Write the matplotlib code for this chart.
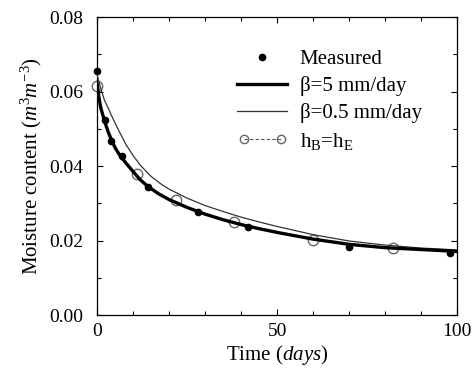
import matplotlib
matplotlib.use("Agg")
import matplotlib.pyplot as plt
from matplotlib.legend_handler import HandlerLine2D
from matplotlib.lines import Line2D
import numpy as np

# Measured data
meas_t = [0, 2.1, 3.9, 7.0, 14.0, 27.9, 41.9, 69.9, 98.0]
meas_y = [0.0656, 0.0523, 0.0468, 0.0428, 0.0344, 0.0277, 0.0237, 0.0183, 0.0166]

# beta = 5 mm/day (thick)
b5_t = [0, 0.5, 1, 2, 3, 4, 5, 6, 8, 10, 12, 14, 17, 20, 25, 30, 35, 40, 45, 50, 60, 70, 80, 90, 100]
b5_y = [0.0620, 0.0582, 0.0556, 0.0522, 0.0493, 0.0469, 0.0449, 0.0433, 0.0408, 0.0385, 0.0363, 0.0346,
        0.0326, 0.0310, 0.0289, 0.0271, 0.0256, 0.0243, 0.0232, 0.0222, 0.0204, 0.0190, 0.0181, 0.0176, 0.0171]

# beta = 0.5 mm/day (thin)
b05_t = [0, 1, 2, 3, 4, 6, 8, 10, 12, 15, 18, 20, 25, 30, 35, 40, 45, 50, 60, 70, 80, 90, 100]
b05_y = [0.0643, 0.0608, 0.0577, 0.0557, 0.0535, 0.0495, 0.0458, 0.0428, 0.0402, 0.0372, 0.0350, 0.0338,
         0.0314, 0.0294, 0.0278, 0.0263, 0.0250, 0.0238, 0.0216, 0.0199, 0.0188, 0.0180, 0.0175]

# hB = hE (open circles)
he_t = [0, 11.0, 21.9, 37.9, 59.9, 82.1]
he_y = [0.0614, 0.0378, 0.0308, 0.0250, 0.0201, 0.0179]

x_ticks = [0, 50, 100]
y_ticks = [0.00, 0.02, 0.04, 0.06, 0.08]

plt.rcParams['font.family'] = ['Liberation Serif', 'DejaVu Serif']
plt.rcParams['mathtext.fontset'] = 'custom'
plt.rcParams['mathtext.rm'] = 'Liberation Serif'
plt.rcParams['mathtext.it'] = 'Liberation Serif:italic'
plt.rcParams['mathtext.bf'] = 'Liberation Serif:bold'


class RightMarkerHandler(HandlerLine2D):
    def get_xdata(self, legend, xdescent, ydescent, width, height, fontsize):
        xd, _ = super().get_xdata(legend, xdescent, ydescent, width, height, fontsize)
        return xd, [width - xdescent]


fig = plt.figure(figsize=(4.72, 3.72), dpi=100)
ax = fig.add_axes([0.206, 0.153, 0.762, 0.801])

ax.plot(he_t, he_y, linestyle='none', marker='o', ms=7.5,
        mfc='none', mec='#666666', mew=1.0, zorder=2, clip_on=False)
ax.plot(b05_t, b05_y, color='#333333', lw=0.9, zorder=3)
ax.plot(b5_t, b5_y, color='black', lw=2.4, zorder=4)
ax.plot(meas_t, meas_y, linestyle='none', marker='o', ms=4.5, color='black', zorder=5, clip_on=False)

ax.set_xlim(0, 100)
ax.set_ylim(0, 0.08)
ax.set_xticks(x_ticks)
ax.set_yticks(y_ticks)
ax.set_yticklabels([f"{v:.2f}" for v in y_ticks])
ax.set_xticks(np.arange(0, 101, 10), minor=True)
ax.set_yticks(np.arange(0, 0.081, 0.01), minor=True)
ax.tick_params(which='both', direction='in', top=True, right=True, labelsize=14, width=0.8)
ax.tick_params(which='major', length=4)
ax.tick_params(which='minor', length=3)
ax.tick_params(axis='x', pad=6)
ax.tick_params(axis='y', pad=10)
for s in ax.spines.values():
    s.set_linewidth(0.9)

ax.set_xlabel(r'Time $(days)$', fontsize=15, labelpad=2)
ax.set_ylabel(r'Moisture content $(m^3m^{-3})$', fontsize=15, labelpad=4)

# legend proxies (style only)
h_meas = Line2D([], [], linestyle='none', marker='o', ms=4.5, color='black')
h_b5 = Line2D([], [], color='black', lw=2.4)
h_b05 = Line2D([], [], color='#333333', lw=0.9)
h_he = Line2D([], [], linestyle=(0, (3, 2)), color='#555555', lw=0.8, marker='o', ms=6,
              mfc='none', mec='#666666', mew=1.0)
leg = ax.legend([h_meas, h_b5, h_b05, h_he],
                ['Measured', r'β=5 mm/day', r'β=0.5 mm/day', r'h$_\mathrm{B}$=h$_\mathrm{E}$'],
                loc='upper right', bbox_to_anchor=(0.955, 0.955), frameon=False, fontsize=15,
                handlelength=2.4, handletextpad=0.6, labelspacing=0.35,
                handler_map={h_meas: RightMarkerHandler(numpoints=1), h_he: HandlerLine2D(numpoints=2)})

fig.savefig('out.png', dpi=100)
